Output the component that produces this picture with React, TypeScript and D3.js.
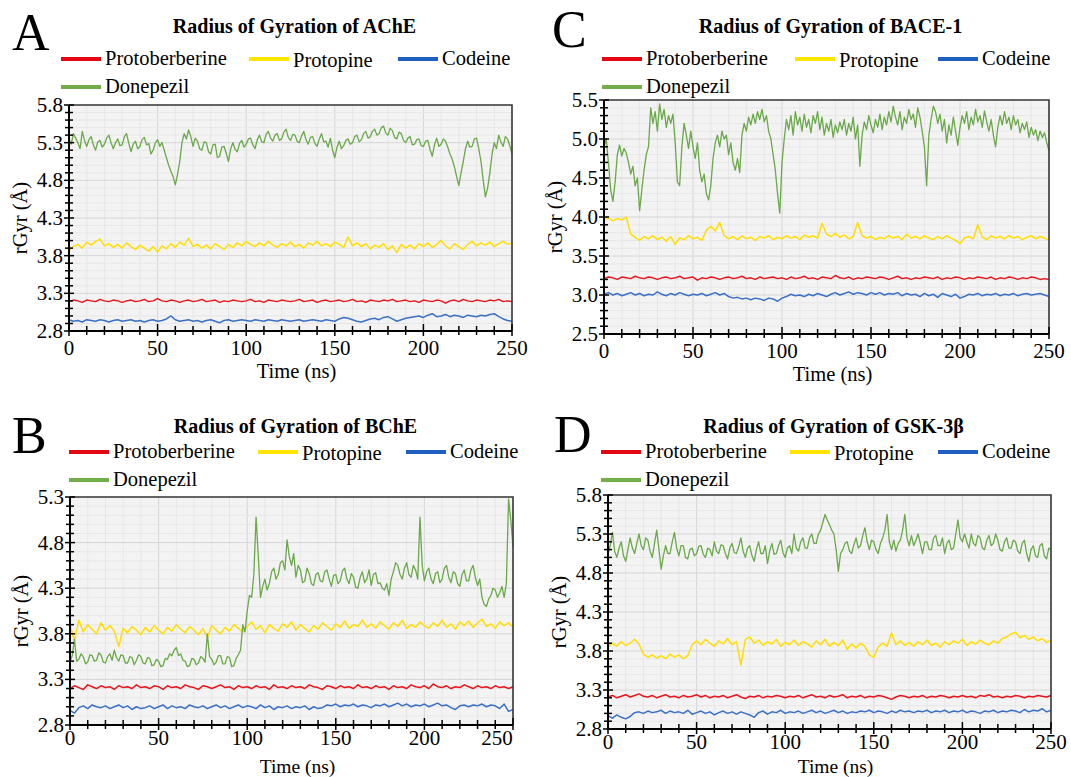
import * as React from "react";
import * as d3 from "d3";

// legend + colours
const seriesNames = ["Protoberberine", "Protopine", "Codeine", "Donepezil"];
const lineColors = ["#e8151c", "#ffde00", "#3b70c6", "#6aa84a"];
const legendColors = ["#e30613", "#ffe400", "#1f5fbf", "#72ae48"];

// time axis (ns); samples are spread evenly from 0 to the last tick
const xTicks = [0, 50, 100, 150, 200, 250];

const yTicksA = [2.8, 3.3, 3.8, 4.3, 4.8, 5.3, 5.8];
const yTicksB = [2.8, 3.3, 3.8, 4.3, 4.8, 5.3];
const yTicksC = [2.5, 3.0, 3.5, 4.0, 4.5, 5.0, 5.5];
const yTicksD = [2.8, 3.3, 3.8, 4.3, 4.8, 5.3, 5.8];

// ---- AChE ----
const acheRed = [
  3.19, 3.21, 3.2, 3.18, 3.21, 3.2, 3.19, 3.22, 3.2, 3.19,
  3.21, 3.2, 3.18, 3.2, 3.21, 3.19, 3.2, 3.22, 3.19, 3.2,
  3.23, 3.2, 3.19, 3.21, 3.2, 3.18, 3.2, 3.21, 3.19, 3.2,
  3.22, 3.19, 3.2, 3.21, 3.18, 3.2, 3.19, 3.21, 3.2, 3.19,
  3.2, 3.22, 3.19, 3.2, 3.18, 3.21, 3.2, 3.19, 3.21, 3.2,
  3.19, 3.2, 3.22, 3.19, 3.2, 3.21, 3.18, 3.2, 3.21, 3.19,
  3.2, 3.21, 3.19, 3.2, 3.22, 3.19, 3.2, 3.18, 3.21, 3.2,
  3.19, 3.21, 3.2, 3.22, 3.19, 3.2, 3.21, 3.19, 3.2, 3.18,
  3.21, 3.2, 3.19, 3.21, 3.2, 3.17, 3.2, 3.21, 3.19, 3.22,
  3.2, 3.19, 3.21, 3.2, 3.19, 3.21, 3.2, 3.22, 3.19, 3.2,
  3.19,
];
const acheYellow = [
  3.87, 3.92, 3.95, 3.9, 3.98, 3.94, 3.99, 4.02, 3.93, 3.96, 3.91,
  3.95, 3.9, 3.97, 3.92, 3.88, 3.94, 3.9, 3.86, 3.92, 3.85,
  3.93, 3.89, 3.96, 3.91, 3.98, 3.94, 4.03, 3.92, 3.95, 3.9,
  3.94, 3.89, 3.96, 3.92, 3.88, 3.95, 3.91, 3.97, 3.93, 3.99,
  3.95, 3.92, 3.97, 3.93, 3.99, 3.94, 3.91, 3.96, 3.93, 3.98,
  3.92, 3.95, 3.9, 3.97, 3.94, 3.99, 3.93, 3.96, 3.92, 3.98,
  3.95, 3.91, 4.05, 3.93, 3.97, 3.92, 3.96, 3.89, 3.94, 3.91,
  3.96, 3.88, 3.93, 3.84, 3.95, 3.9, 3.94, 3.89, 3.96, 3.92,
  3.97, 3.91, 3.95, 4.0, 3.93, 3.89, 3.96, 3.92, 3.88, 3.95,
  3.99, 3.93, 3.97, 3.94, 3.98, 3.92, 3.96, 3.99, 3.95, 3.97,
];
const acheBlue = [
  2.95, 2.93, 2.94, 2.92, 2.95, 2.94, 2.93, 2.95, 2.94, 2.92, 2.94,
  2.95, 2.93, 2.94, 2.95, 2.93, 2.94, 2.92, 2.94, 2.95, 2.93,
  2.94, 2.96, 3.0, 2.95, 2.93, 2.94, 2.95, 2.93, 2.94, 2.92,
  2.94, 2.95, 2.93, 2.91, 2.94, 2.95, 2.93, 2.94, 2.95, 2.94,
  2.93, 2.95, 2.94, 2.93, 2.95, 2.94, 2.93, 2.95, 2.94, 2.93,
  2.94, 2.95, 2.93, 2.94, 2.95, 2.94, 2.93, 2.95, 2.94, 2.93,
  2.96, 2.98, 2.97, 2.95, 2.93, 2.92, 2.94, 2.96, 2.97, 2.95,
  2.98, 2.99, 2.96, 2.93, 2.95, 2.97, 2.98, 2.99, 3.0, 2.98,
  3.01, 3.03, 2.99, 3.0, 3.02, 2.99, 3.01, 3.0, 2.98, 3.01,
  3.0, 2.99, 3.01, 3.0, 3.02, 3.03, 2.99, 2.96, 2.94, 2.93,
];
const acheGreen = [
  5.35, 5.28, 5.42, 5.36, 5.3, 5.22, 5.45, 5.33, 5.25, 5.34, 5.38, 5.27, 5.2, 5.31, 5.33, 5.24, 5.28, 5.36, 5.4, 5.3,
  5.22, 5.3, 5.35, 5.26, 5.27, 5.38, 5.42, 5.29, 5.18, 5.28, 5.32, 5.22, 5.25, 5.34, 5.37, 5.27, 5.29, 5.15, 5.2, 5.3,
  5.34, 5.25, 5.3, 5.2, 5.1, 5.0, 4.92, 4.85, 4.74, 4.88, 5.05, 5.3, 5.42, 5.35, 5.47, 5.38, 5.25, 5.36, 5.32, 5.22,
  5.2, 5.31, 5.3, 5.18, 5.15, 5.27, 5.28, 5.1, 5.12, 5.24, 5.25, 5.16, 5.05, 5.22, 5.3, 5.21, 5.18, 5.29, 5.33, 5.24,
  5.28, 5.35, 5.36, 5.27, 5.22, 5.34, 5.4, 5.31, 5.3, 5.41, 5.45, 5.36, 5.32, 5.4, 5.42, 5.33, 5.35, 5.44, 5.48, 5.37,
  5.33, 5.41, 5.4, 5.32, 5.3, 5.39, 5.45, 5.34, 5.28, 5.37, 5.38, 5.29, 5.25, 5.35, 5.42, 5.31, 5.32, 5.24, 5.36, 5.2,
  5.1, 5.24, 5.32, 5.22, 5.26, 5.33, 5.35, 5.28, 5.3, 5.38, 5.4, 5.31, 5.34, 5.42, 5.45, 5.36, 5.38, 5.45, 5.48, 5.4,
  5.42, 5.5, 5.52, 5.43, 5.4, 5.49, 5.46, 5.37, 5.35, 5.44, 5.42, 5.33, 5.3, 5.36, 5.38, 5.27, 5.28, 5.34, 5.35, 5.26,
  5.25, 5.32, 5.33, 5.21, 5.12, 5.27, 5.36, 5.25, 5.28, 5.35, 5.32, 5.24, 5.15, 5.08, 4.98, 4.85, 4.73, 4.9, 5.05, 5.22,
  5.32, 5.24, 5.25, 5.35, 5.36, 5.22, 5.05, 4.8, 4.58, 4.7, 4.9, 5.15, 5.3, 5.22, 5.4, 5.31, 5.25, 5.38, 5.35, 5.26,
  5.15,
];

// ---- BChE ----
const bcheRed = [
  3.2, 3.23, 3.21, 3.19, 3.24, 3.22, 3.2, 3.23, 3.21, 3.22,
  3.19, 3.23, 3.21, 3.22, 3.2, 3.24, 3.21, 3.22, 3.2, 3.23,
  3.22, 3.19, 3.23, 3.21, 3.22, 3.2, 3.24, 3.22, 3.21, 3.19,
  3.23, 3.22, 3.2, 3.22, 3.24, 3.21, 3.22, 3.19, 3.23, 3.21,
  3.22, 3.2, 3.23, 3.21, 3.22, 3.19, 3.24, 3.21, 3.22, 3.2,
  3.23, 3.21, 3.22, 3.2, 3.24, 3.22, 3.21, 3.19, 3.23, 3.22,
  3.2, 3.23, 3.21, 3.22, 3.2, 3.24, 3.21, 3.22, 3.2, 3.23,
  3.21, 3.22, 3.19, 3.23, 3.21, 3.22, 3.2, 3.24, 3.22, 3.21,
  3.23, 3.2, 3.25, 3.22, 3.21, 3.23, 3.2, 3.22, 3.21, 3.24,
  3.22, 3.2, 3.23, 3.21, 3.22, 3.2, 3.23, 3.21, 3.22, 3.2,
  3.22,
];
const bcheYellow = [
  3.9, 3.72, 3.95, 3.82, 3.9, 3.85, 3.8, 3.92, 3.84, 3.89,
  3.83, 3.66, 3.86, 3.81, 3.88, 3.84, 3.79, 3.87, 3.82, 3.89,
  3.84, 3.8, 3.87, 3.83, 3.9, 3.85, 3.81, 3.88, 3.84, 3.79,
  3.86, 3.76, 3.89, 3.84, 3.8, 3.87, 3.83, 3.9, 3.86, 3.82,
  3.88, 3.93, 3.85, 3.89, 3.81, 3.9, 3.86, 3.83, 3.91, 3.87,
  3.93, 3.84, 3.9, 3.86, 3.82, 3.89, 3.85, 3.92, 3.88, 3.84,
  3.91, 3.87, 3.94, 3.86, 3.9, 3.88, 3.95, 3.87, 3.91, 3.86,
  3.93, 3.89, 3.85, 3.92, 3.88, 3.95, 3.86, 3.9, 3.87, 3.93,
  3.89, 3.86, 3.92, 3.88, 3.95, 3.87, 3.91, 3.85, 3.93, 3.89,
  3.94, 3.87, 3.92, 3.96, 3.88, 3.91, 3.86, 3.93, 3.89, 3.92,
  3.87,
];
const bcheBlue = [
  2.96, 2.93, 2.99, 3.01, 2.98, 3.02, 3.0, 2.99, 3.01, 2.98,
  3.0, 3.02, 2.99, 3.01, 2.97, 3.0, 2.98, 2.99, 3.01, 2.98,
  3.0, 3.02, 2.98, 3.01, 2.99, 3.0, 2.98, 3.02, 3.0, 2.99,
  3.01, 2.98, 3.0, 3.02, 2.99, 3.01, 2.98, 3.0, 3.02, 2.99,
  3.01, 3.0, 2.98, 3.02, 2.99, 3.01, 2.97, 3.0, 2.99, 3.01,
  2.98, 3.0, 2.99, 3.01, 2.97, 3.0, 2.98, 2.99, 3.02, 3.01,
  3.03, 3.0, 3.02, 3.01, 3.03, 3.0, 3.02, 3.01, 2.99, 3.02,
  3.01, 3.03, 3.0, 3.02, 3.04, 3.01, 3.03, 3.0, 3.02, 3.01,
  3.03, 3.0, 3.02, 3.04, 3.01, 3.02, 2.99, 2.97, 3.01, 3.02,
  3.0, 3.02, 3.01, 3.03, 3.0, 3.02, 3.01, 2.98, 3.03, 2.95,
  2.97,
];
const bcheGreen = [
  3.5, 3.56, 3.74, 3.5, 3.52, 3.58, 3.55, 3.47, 3.49, 3.57, 3.56, 3.5, 3.51, 3.59, 3.57, 3.49, 3.48, 3.55, 3.58, 3.51,
  3.62, 3.54, 3.5, 3.57, 3.56, 3.48, 3.48, 3.55, 3.54, 3.46, 3.51, 3.57, 3.55, 3.48, 3.47, 3.54, 3.53, 3.45, 3.46, 3.52,
  3.5, 3.44, 3.45, 3.53, 3.52, 3.58, 3.56, 3.62, 3.65, 3.56, 3.58, 3.51, 3.5, 3.44, 3.45, 3.53, 3.52, 3.46, 3.48, 3.55,
  3.53, 3.49, 3.8, 3.55, 3.52, 3.46, 3.49, 3.56, 3.56, 3.47, 3.47, 3.55, 3.54, 3.44, 3.45, 3.53, 3.57, 3.62, 3.9, 3.82,
  4.05, 4.22, 4.2, 4.45, 5.08, 4.65, 4.2, 4.32, 4.4, 4.28, 4.35, 4.48, 4.52, 4.4, 4.45, 4.58, 4.6, 4.5, 4.83, 4.65,
  4.55, 4.68, 4.42, 4.55, 4.5, 4.36, 4.38, 4.52, 4.46, 4.35, 4.33, 4.45, 4.47, 4.38, 4.37, 4.48, 4.5, 4.4, 4.32, 4.44,
  4.45, 4.35, 4.38, 4.49, 4.52, 4.4, 4.35, 4.46, 4.42, 4.31, 4.3, 4.42, 4.48, 4.36, 4.4, 4.5, 4.33, 4.45, 4.47, 4.35,
  4.36, 4.3, 4.28, 4.35, 4.22, 4.4, 4.48, 4.58, 4.55, 4.45, 4.4, 4.52, 4.58, 4.45, 4.42, 4.55, 4.5, 4.4, 5.08, 4.55,
  4.38, 4.48, 4.52, 4.4, 4.35, 4.46, 4.48, 4.36, 4.4, 4.52, 4.55, 4.42, 4.36, 4.48, 4.46, 4.35, 4.32, 4.45, 4.5, 4.38,
  4.38, 4.5, 4.55, 4.42, 4.33, 4.4, 4.2, 4.12, 4.1, 4.18, 4.22, 4.3, 4.28, 4.2, 4.25, 4.32, 4.2, 4.35, 5.28, 5.05,
  4.75,
];

// ---- BACE-1 ----
const baceRed = [
  3.21, 3.23, 3.22, 3.2, 3.23, 3.22, 3.21, 3.24, 3.22, 3.21,
  3.23, 3.22, 3.2, 3.22, 3.23, 3.21, 3.22, 3.24, 3.21, 3.22,
  3.23, 3.19, 3.22, 3.21, 3.23, 3.22, 3.2, 3.22, 3.23, 3.21,
  3.22, 3.24, 3.21, 3.22, 3.2, 3.23, 3.21, 3.22, 3.23, 3.21,
  3.22, 3.2, 3.23, 3.21, 3.22, 3.24, 3.21, 3.22, 3.2, 3.23,
  3.22, 3.21, 3.25, 3.22, 3.21, 3.23, 3.2, 3.22, 3.21, 3.23,
  3.22, 3.21, 3.23, 3.22, 3.2, 3.22, 3.24, 3.21, 3.22, 3.2,
  3.22, 3.21, 3.23, 3.22, 3.21, 3.23, 3.2, 3.22, 3.21, 3.23,
  3.22, 3.2, 3.22, 3.21, 3.23, 3.22, 3.21, 3.23, 3.2, 3.22,
  3.21, 3.23, 3.22, 3.2, 3.22, 3.21, 3.23, 3.22, 3.2, 3.21,
  3.2,
];
const baceYellow = [
  3.97, 3.99, 3.95, 3.98, 3.96, 4.0, 3.78, 3.74,
  3.7, 3.75, 3.72, 3.76, 3.71, 3.74, 3.69, 3.75, 3.65, 3.73, 3.71, 3.76, 3.72,
  3.74, 3.7, 3.83, 3.88, 3.82, 3.93, 3.76, 3.72, 3.75, 3.71,
  3.76, 3.72, 3.74, 3.7, 3.75, 3.73, 3.76, 3.71, 3.74, 3.72,
  3.76, 3.73, 3.75, 3.71, 3.77, 3.74, 3.76, 3.73, 3.92, 3.78,
  3.75, 3.79, 3.74, 3.77, 3.72, 3.75, 3.93, 3.76, 3.73, 3.75,
  3.71, 3.74, 3.72, 3.76, 3.73, 3.75, 3.71, 3.78, 3.73, 3.75,
  3.72, 3.76, 3.73, 3.71, 3.75, 3.72, 3.76, 3.73, 3.7, 3.66,
  3.73, 3.75, 3.72, 3.9, 3.74, 3.71, 3.76, 3.73, 3.75, 3.72,
  3.76, 3.73, 3.75, 3.71, 3.74, 3.76, 3.72, 3.75, 3.73, 3.7,
];
const baceBlue = [
  3.01, 3.03, 3.0, 3.02, 2.99, 3.01, 3.03, 3.0, 3.02, 2.99, 3.01,
  3.0, 3.04, 3.01, 2.99, 3.02, 3.0, 3.03, 3.01, 2.99, 3.01,
  3.0, 3.02, 2.99, 3.01, 3.03, 3.0, 3.02, 2.98, 2.96, 2.97,
  2.95, 2.96, 2.94, 2.96, 2.95, 2.93, 2.96, 2.95, 2.92, 2.96,
  2.98, 3.01, 2.99, 3.0, 2.98, 3.01, 2.99, 3.02, 3.0, 2.98,
  3.01, 3.03, 3.0, 3.02, 3.04, 3.01, 3.03, 3.02, 3.0, 3.03,
  3.01, 3.03, 3.0, 3.02, 3.01, 3.03, 2.99, 3.02, 3.0, 3.01,
  2.98, 3.02, 2.99, 3.01, 2.97, 3.02, 3.0, 2.98, 3.01, 2.96,
  2.98, 3.01, 3.0, 3.02, 2.99, 3.01, 3.0, 3.02, 2.99, 3.01,
  3.0, 3.02, 2.99, 3.01, 3.02, 3.0, 3.01, 3.02, 3.0, 2.98,
];
const baceGreen = [
  4.9, 5.0, 4.7, 4.35, 4.2, 4.45, 4.8, 4.92, 4.78, 4.88,
  4.82, 4.7, 4.55, 4.65, 4.4, 4.5, 4.08, 4.35, 4.6, 4.8,
  4.9, 5.4, 5.2, 5.35, 5.1, 5.45, 5.25, 5.38, 5.15, 5.3,
  5.2, 5.32, 4.95, 4.45, 4.4, 4.9, 5.2, 5.05, 4.88, 5.1,
  4.9, 4.75, 4.95, 4.6, 4.45, 4.55, 4.3, 4.22, 4.4, 4.75,
  4.95, 5.05, 4.9, 5.1, 5.0, 5.05, 4.8, 4.95, 4.7, 4.6,
  4.75, 4.57, 5.05, 5.2, 5.1, 5.28, 5.18, 5.32, 5.2, 5.35,
  5.25, 5.38, 5.22, 5.3, 5.1, 5.0, 4.8, 4.6, 4.3, 4.05,
  4.7, 5.0, 5.25, 5.12, 5.3, 5.05, 5.35, 5.18, 5.28, 5.1,
  5.32, 5.15, 5.25, 5.08, 5.3, 5.2, 5.35, 5.12, 5.28, 5.05,
  5.2, 5.1, 5.25, 5.02, 5.18, 5.08, 5.22, 5.12, 5.25, 5.05,
  5.2, 5.1, 5.28, 5.0, 5.18, 4.65, 5.05, 5.22, 5.12, 5.3,
  5.18, 5.08, 5.25, 5.15, 5.32, 5.12, 5.28, 5.18, 5.35, 5.22,
  5.42, 5.28, 5.18, 5.35, 5.12, 5.28, 5.2, 5.38, 5.25, 5.32,
  5.15, 5.4, 5.28, 5.1, 4.9, 4.4, 5.05, 5.25, 5.42, 5.35,
  5.2, 5.32, 5.1, 5.25, 4.95, 5.18, 5.05, 5.28, 5.1, 4.92,
  5.15, 5.3, 5.2, 5.35, 5.12, 5.28, 5.18, 5.38, 5.22, 5.3,
  5.15, 5.36, 5.22, 5.1, 5.25, 5.05, 4.9, 5.15, 5.3, 5.18,
  5.35, 5.2, 5.28, 5.12, 5.3, 5.18, 5.25, 5.08, 5.2, 5.12,
  5.22, 5.02, 5.15, 5.05, 5.12, 4.98, 5.1, 5.02, 5.08, 4.95,
  4.85,
];

// ---- GSK-3β ----
const gskRed = [
  3.21, 3.23, 3.2, 3.22, 3.24, 3.21, 3.23, 3.25, 3.22, 3.21,
  3.23, 3.2, 3.22, 3.24, 3.21, 3.22, 3.2, 3.23, 3.21, 3.22,
  3.24, 3.21, 3.23, 3.2, 3.22, 3.21, 3.23, 3.2, 3.22, 3.24,
  3.21, 3.19, 3.22, 3.21, 3.23, 3.2, 3.22, 3.21, 3.23, 3.22,
  3.2, 3.22, 3.21, 3.23, 3.2, 3.22, 3.24, 3.21, 3.22, 3.2,
  3.23, 3.21, 3.22, 3.24, 3.2, 3.22, 3.21, 3.23, 3.2, 3.22,
  3.21, 3.23, 3.22, 3.2, 3.18, 3.21, 3.23, 3.22, 3.2, 3.22,
  3.21, 3.23, 3.2, 3.22, 3.21, 3.23, 3.22, 3.2, 3.22, 3.21,
  3.23, 3.21, 3.22, 3.2, 3.23, 3.22, 3.24, 3.21, 3.22, 3.2,
  3.22, 3.21, 3.23, 3.22, 3.2, 3.22, 3.21, 3.23, 3.22, 3.21,
  3.23,
];
const gskYellow = [
  3.85, 3.9, 3.86, 3.92, 3.87, 3.9, 3.95, 3.89, 3.76, 3.72,
  3.75, 3.71, 3.74, 3.7, 3.76, 3.72, 3.75, 3.7, 3.74, 3.88,
  3.93, 3.88, 3.95, 3.9, 3.86, 3.93, 3.89, 3.96, 3.88, 3.92,
  3.62, 3.95, 3.98, 3.9, 3.94, 3.87, 3.92, 3.89, 3.95, 3.86,
  3.91, 3.88, 3.94, 3.87, 3.92, 3.89, 3.85, 3.93, 3.88, 3.95,
  3.86, 3.91, 3.87, 3.94, 3.82, 3.89, 3.84, 3.9, 3.86, 3.75,
  3.72, 3.85, 3.9, 3.86, 4.03, 3.88, 3.93, 3.87, 3.91, 3.86,
  3.92, 3.88, 3.94, 3.87, 3.9, 3.85, 3.92, 3.88, 3.93, 3.9,
  3.95, 3.87, 3.92, 3.89, 3.94, 3.9, 3.88, 3.93, 3.9, 3.96,
  3.98, 4.02, 4.04, 3.97, 4.0, 3.95, 3.98, 3.93, 3.96, 3.91,
  3.94,
];
const gskBlue = [
  2.97, 2.94, 2.98, 2.95, 2.93, 2.96, 3.01, 3.02, 3.0, 3.03,
  3.01, 3.02, 3.04, 3.0, 3.03, 3.01, 3.02, 3.0, 3.04, 2.99,
  3.01, 3.03, 3.0, 3.02, 2.98, 3.01, 3.03, 3.0, 3.02, 2.99,
  3.02, 3.0, 2.98, 2.95, 3.01, 3.03, 2.99, 3.02, 3.01, 3.04,
  3.0, 3.02, 3.01, 3.03, 3.0, 3.02, 3.04, 3.01, 3.03, 3.0,
  3.02, 3.04, 3.01, 3.03, 3.0, 3.02, 3.01, 3.03, 3.02, 3.04,
  3.01, 3.03, 3.02, 3.0, 3.03, 3.01, 3.04, 3.02, 3.03, 3.01,
  3.03, 3.02, 3.04, 3.01, 3.03, 3.02, 3.04, 3.01, 3.03, 3.02,
  3.04, 3.01, 3.03, 3.02, 3.0, 3.03, 3.02, 3.04, 3.01, 3.03,
  3.02, 3.04, 3.03, 3.01, 3.05, 3.02, 3.04, 3.03, 3.06, 3.02,
  3.04,
];
const gskGreen = [
  5.05, 5.15, 5.32, 5.08, 5.0, 5.12, 5.2, 5.02, 4.95, 5.1, 5.25, 5.12, 5.05, 5.18, 5.3, 5.15, 5.1, 5.25, 5.22, 5.08,
  5.0, 5.18, 5.35, 5.1, 4.85, 5.02, 5.15, 5.05, 5.05, 5.2, 5.32, 5.12, 5.02, 5.15, 5.15, 5.0, 4.98, 5.1, 5.12, 5.02,
  5.05, 5.14, 5.15, 5.04, 5.0, 5.12, 5.1, 5.02, 5.2, 5.08, 5.05, 5.16, 5.15, 5.05, 4.98, 5.12, 5.18, 5.06, 5.05, 5.14,
  5.25, 5.08, 5.0, 5.12, 5.15, 5.02, 4.95, 5.1, 5.2, 5.05, 5.05, 5.15, 4.92, 5.08, 5.18, 5.04, 5.05, 5.15, 5.22, 5.06,
  5.0, 5.12, 5.15, 5.05, 5.3, 5.12, 5.08, 5.2, 5.25, 5.12, 5.12, 5.25, 5.3, 5.18, 5.18, 5.3, 5.35, 5.45, 5.55, 5.48,
  5.42, 5.35, 5.3, 5.1, 4.82, 5.05, 5.1, 5.18, 5.2, 5.08, 5.05, 5.16, 5.25, 5.12, 5.15, 5.28, 5.38, 5.2, 5.1, 5.22,
  5.2, 5.1, 5.05, 5.18, 5.25, 5.35, 5.55, 5.2, 5.1, 5.22, 5.08, 5.18, 5.22, 5.35, 5.55, 5.25, 5.15, 5.28, 5.15, 5.22,
  5.3, 5.18, 5.05, 5.2, 5.2, 5.1, 5.1, 5.25, 5.28, 5.15, 5.15, 5.25, 5.05, 5.18, 5.22, 5.1, 5.12, 5.3, 5.48, 5.25,
  5.2, 5.3, 5.2, 5.12, 5.3, 5.18, 5.15, 5.28, 5.25, 5.12, 5.1, 5.22, 5.28, 5.15, 5.18, 5.3, 5.22, 5.1, 5.08, 5.2,
  5.25, 5.12, 5.12, 5.22, 5.2, 5.08, 5.05, 5.18, 5.22, 5.05, 4.95, 5.1, 5.15, 5.02, 5.0, 5.15, 5.18, 5.02, 4.98, 5.12,
  5.1,
];

const font = "'Liberation Serif', 'Times New Roman', serif";

type Box = { l: number; r: number; t: number; b: number };
type PanelCfg = {
  letter: string;
  letterX: number;
  letterY: number;
  title: string;
  titleY: number;
  legendX: number[];
  legendY: number;
  yTicks: number[];
  series: number[][];
  box: Box;
  lastXLabelDx: number;
};

const panels: PanelCfg[] = [
  {
    letter: "A", letterX: 12, letterY: 50,
    title: "Radius of Gyration of AChE", titleY: 33,
    legendX: [61, 249, 398], legendY: 59,
    yTicks: yTicksA,
    series: [acheRed, acheYellow, acheBlue, acheGreen],
    box: { l: 69, r: 512, t: 105, b: 331 }, lastXLabelDx: 0,
  },
  {
    letter: "B", letterX: 12, letterY: 453,
    title: "Radius of Gyration of BChE", titleY: 433,
    legendX: [69, 258, 406], legendY: 452,
    yTicks: yTicksB,
    series: [bcheRed, bcheYellow, bcheBlue, bcheGreen],
    box: { l: 70, r: 513, t: 497, b: 725 }, lastXLabelDx: -16,
  },
  {
    letter: "C", letterX: 552, letterY: 47,
    title: "Radius of Gyration of BACE-1", titleY: 33,
    legendX: [602, 795, 938], legendY: 59,
    yTicks: yTicksC,
    series: [baceRed, baceYellow, baceBlue, baceGreen],
    box: { l: 604, r: 1049, t: 100, b: 334 }, lastXLabelDx: 0,
  },
  {
    letter: "D", letterX: 554, letterY: 452,
    title: "Radius of Gyration of GSK-3β", titleY: 433,
    legendX: [601, 790, 938], legendY: 452,
    yTicks: yTicksD,
    series: [gskRed, gskYellow, gskBlue, gskGreen],
    box: { l: 608, r: 1051, t: 495, b: 729 }, lastXLabelDx: 0,
  },
];

const fmt = d3.format(".1f");

function Panel({ cfg }: { cfg: PanelCfg }) {
  const { box } = cfg;
  const yMin = cfg.yTicks[0];
  const yMax = cfg.yTicks[cfg.yTicks.length - 1];
  const xMax = xTicks[xTicks.length - 1];

  const x = d3.scaleLinear().domain([0, xMax]).range([box.l, box.r]);
  const y = d3.scaleLinear().domain([yMin, yMax]).range([box.b, box.t]);

  const lineFor = (s: number[]) =>
    d3
      .line<number>()
      .x((_, i) => x((i * xMax) / (s.length - 1)))
      .y((d) => y(d))(s);

  const xMinor = d3.range(0, xMax + 0.001, 10);
  const yMinor = d3.range(0, Math.round((yMax - yMin) / 0.1) + 1).map((k) => yMin + k * 0.1);
  const isMajorX = (v: number) => xTicks.includes(v);
  const isMajorY = (v: number) => cfg.yTicks.some((t) => Math.abs(t - v) < 1e-6);

  const cx = (box.l + box.r) / 2;
  const cy = (box.t + box.b) / 2;
  // bottom row is squeezed against the page edge
  const bottomRow = box.b > 600;
  const tickLabelY = box.b + (bottomRow ? 20 : 24);
  const timeY = bottomRow ? 772.5 : box.b + 47;

  return (
    <g>
      {/* panel letter + title */}
      <text x={cfg.letterX} y={cfg.letterY} fontFamily={font} fontSize={52}>
        {cfg.letter}
      </text>
      <text x={cx + 4} y={cfg.titleY} fontFamily={font} fontSize={20} fontWeight="bold" textAnchor="middle">
        {cfg.title}
      </text>

      {/* legend */}
      {seriesNames.map((name, i) => {
        const row = i < 3 ? 0 : 1;
        const lx = i < 3 ? cfg.legendX[i] : cfg.legendX[0];
        const ly = cfg.legendY + row * 28;
        return (
          <g key={name}>
            <line x1={lx} x2={lx + 40} y1={ly} y2={ly} stroke={legendColors[i]} strokeWidth={4} />
            <text x={lx + 44} y={ly + 6 + (i === 1 ? 2 : 0)} fontFamily={font} fontSize={20.5}>
              {name}
            </text>
          </g>
        );
      })}

      {/* plot background and grid */}
      <rect x={box.l} y={box.t} width={box.r - box.l} height={box.b - box.t} fill="#f3f3f3" />
      {xMinor.map((v) => (
        <line key={"gx" + v} x1={x(v)} x2={x(v)} y1={box.t} y2={box.b}
          stroke={isMajorX(v) ? "#d6d6d6" : "#e7e7e7"} strokeWidth={1} />
      ))}
      {yMinor.map((v) => (
        <line key={"gy" + v} x1={box.l} x2={box.r} y1={y(v)} y2={y(v)}
          stroke={isMajorY(v) ? "#d6d6d6" : "#e7e7e7"} strokeWidth={1} />
      ))}

      {/* data */}
      {cfg.series.map((s, i) => (
        <path key={"s" + i} d={lineFor(s) || ""} fill="none" stroke={lineColors[i]}
          strokeWidth={i === 3 ? 1.3 : 1.5} strokeLinejoin="round" />
      ))}

      {/* frame */}
      <path d={`M${box.l},${box.t}H${box.r}V${box.b}`} fill="none" stroke="#3a3a3a" strokeWidth={1.6} />
      <path d={`M${box.l},${box.t}V${box.b}H${box.r}`} fill="none" stroke="#000" strokeWidth={2} />

      {/* x ticks */}
      {xMinor.map((v) => {
        const major = isMajorX(v);
        return (
          <line key={"tx" + v} x1={x(v)} x2={x(v)} y1={box.b - (major ? 7 : 5)} y2={box.b + (major ? 5 : 4)}
            stroke="#000" strokeWidth={1.5} />
        );
      })}
      {xTicks.map((v, i) => (
        <text key={"lx" + v} x={x(v) + (i === xTicks.length - 1 ? cfg.lastXLabelDx : 0)} y={tickLabelY}
          fontFamily={font} fontSize={21} textAnchor="middle">
          {v}
        </text>
      ))}
      <text x={cx + 6} y={timeY} fontFamily={font} fontSize={bottomRow ? 19.5 : 20.5} textAnchor="middle">
        Time (ns)
      </text>

      {/* y ticks */}
      {yMinor.map((v) => {
        const major = isMajorY(v);
        return (
          <line key={"ty" + v} x1={box.l - (major ? 5 : 4)} x2={box.l + (major ? 5 : 4)} y1={y(v)} y2={y(v)}
            stroke="#000" strokeWidth={1.5} />
        );
      })}
      {cfg.yTicks.map((v) => (
        <text key={"ly" + v} x={box.l - 6} y={y(v) + 7} fontFamily={font} fontSize={21} textAnchor="end">
          {fmt(v)}
        </text>
      ))}
      <text transform={`translate(${box.l - 42}, ${cy})rotate(-90)`} fontFamily={font} fontSize={20.5} textAnchor="middle">
        rGyr (Å)
      </text>
    </g>
  );
}

export default function App() {
  return (
    <svg width={1071} height={777} style={{ position: "absolute", left: 0, top: 0, background: "#fff" }}>
      {panels.map((p) => (
        <Panel key={p.letter} cfg={p} />
      ))}
    </svg>
  );
}
